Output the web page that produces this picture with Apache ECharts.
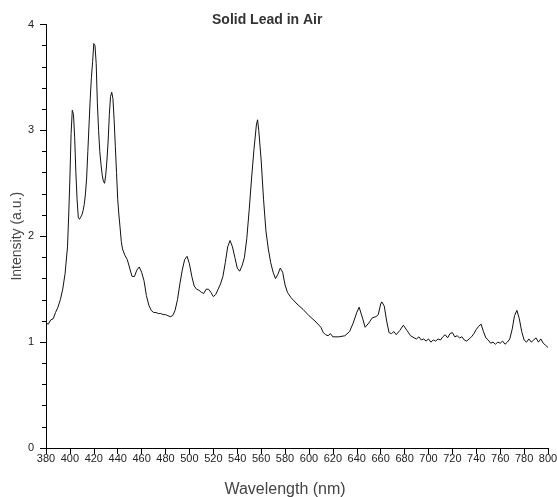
<!DOCTYPE html>
<html><head><meta charset="utf-8">
<script src="https://cdn.jsdelivr.net/npm/echarts@6/dist/echarts.min.js"></script>
<style>html,body{margin:0;padding:0;background:#fff}#c{width:557px;height:497px}</style>
</head><body><div id="c"></div>
<script>
const titleText = 'Solid Lead in Air';
const xName = 'Wavelength (nm)';
const yName = 'Intensity (a.u.)';
const wavelength = [380,382,384,386,388,390,392,394,396,398,399,400,401,402,403,404,405,406,407,408,409,410,411,412,413,414,415,416,417,418,419,420,421,422,423,424,425,426,427,428,429,430,431,432,433,434,435,436,437,438,439,440,441,442,443,444,446,448,450,452,454,456,458,460,462,464,466,468,470,472,474,476,478,480,482,484,486,488,490,492,494,496,498,500,502,504,506,508,510,512,514,516,518,520,522,524,526,528,530,532,534,536,538,540,542,544,546,548,550,552,554,556,557,558,560,562,564,566,568,570,572,574,576,578,580,582,585,590,595,600,605,610,612,614,616,618,620,625,630,634,637,640,642,643,645,647,650,653,656,658,660,661,663,665,667,669,671,673,676,679,682,685,688,690,692,694,696,698,700,702,704,706,708,710,712,714,716,718,720,722,724,726,728,730,732,734,736,738,740,742,744,746,748,750,752,754,756,758,760,762,764,766,768,770,772,774,776,778,780,782,784,786,788,790,792,794,796,798,800];
const intensity = [1.18,1.17,1.21,1.22,1.28,1.33,1.40,1.50,1.65,1.90,2.20,2.55,2.97,3.19,3.15,2.93,2.60,2.35,2.18,2.16,2.18,2.20,2.24,2.30,2.40,2.55,2.80,3.05,3.30,3.50,3.65,3.82,3.80,3.63,3.25,3.00,2.80,2.68,2.58,2.52,2.50,2.58,2.72,2.90,3.15,3.32,3.36,3.30,3.10,2.85,2.60,2.35,2.20,2.08,1.95,1.88,1.82,1.78,1.70,1.62,1.62,1.68,1.71,1.66,1.58,1.44,1.35,1.30,1.28,1.28,1.27,1.27,1.26,1.26,1.25,1.24,1.25,1.30,1.40,1.55,1.68,1.78,1.81,1.74,1.62,1.53,1.50,1.49,1.47,1.46,1.50,1.50,1.47,1.43,1.45,1.50,1.55,1.62,1.75,1.90,1.96,1.90,1.80,1.70,1.67,1.72,1.80,1.98,2.25,2.55,2.82,3.05,3.10,3.00,2.72,2.35,2.05,1.88,1.75,1.66,1.60,1.64,1.70,1.66,1.54,1.47,1.42,1.36,1.31,1.25,1.20,1.14,1.09,1.07,1.06,1.08,1.05,1.05,1.06,1.10,1.18,1.28,1.33,1.34,1.22,1.14,1.18,1.23,1.24,1.26,1.36,1.38,1.34,1.20,1.09,1.08,1.10,1.07,1.11,1.16,1.11,1.06,1.04,1.03,1.05,1.02,1.03,1.01,1.03,1.00,1.02,1.01,1.03,1.02,1.05,1.07,1.04,1.08,1.09,1.05,1.06,1.04,1.05,1.02,1.01,1.03,1.05,1.08,1.12,1.15,1.17,1.10,1.04,1.02,0.99,1.00,0.98,1.00,0.99,1.01,0.98,1.00,1.03,1.12,1.25,1.30,1.22,1.10,1.02,1.00,1.03,1.00,1.02,1.04,1.00,1.03,0.99,0.97,0.95];

const chart = echarts.init(document.getElementById('c'), null, {renderer: 'canvas'});
chart.setOption({
  animation: false,
  backgroundColor: '#fff',
  title: {
    text: titleText, left: 207, top: 8,
    textStyle: {fontFamily: 'Liberation Sans', fontSize: 14, fontWeight: 'bold', color: '#333'}
  },
  grid: {left: 46, right: 9, top: 24.5, bottom: 49, containLabel: false, outerBoundsMode: 'none'},
  xAxis: {
    type: 'value', min: 380, max: 800, interval: 20,
    name: xName, nameLocation: 'middle', nameGap: 34,
    nameTextStyle: {fontFamily: 'Liberation Sans', fontSize: 16, color: '#444', padding: [0, 24, 0, 0]},
    axisLine: {lineStyle: {color: '#000', width: 1}},
    axisTick: {show: true, length: 6, lineStyle: {color: '#000'}},
    axisLabel: {fontFamily: 'Liberation Sans', fontSize: 11, color: '#222', margin: 5, showMinLabel: true, showMaxLabel: true},
    splitLine: {show: false}
  },
  yAxis: {
    type: 'value', min: 0, max: 4, interval: 1,
    name: yName, nameLocation: 'middle', nameGap: 22, nameMoveOverlap: false,
    nameTextStyle: {fontFamily: 'Liberation Sans', fontSize: 14, color: '#444'},
    axisLine: {show: true, lineStyle: {color: '#000', width: 1}},
    axisTick: {show: true, length: 6, lineStyle: {color: '#000'}},
    minorTick: {show: true, splitNumber: 5, length: 4, lineStyle: {color: '#000'}},
    axisLabel: {fontFamily: 'Liberation Sans', fontSize: 11, color: '#222', margin: 12},
    splitLine: {show: false}
  },
  series: [{
    type: 'line',
    data: wavelength.map((w, i) => [w, intensity[i]]),
    showSymbol: false,
    lineStyle: {color: '#111', width: 1},
    smooth: false
  }]
});
</script>
</body></html>
